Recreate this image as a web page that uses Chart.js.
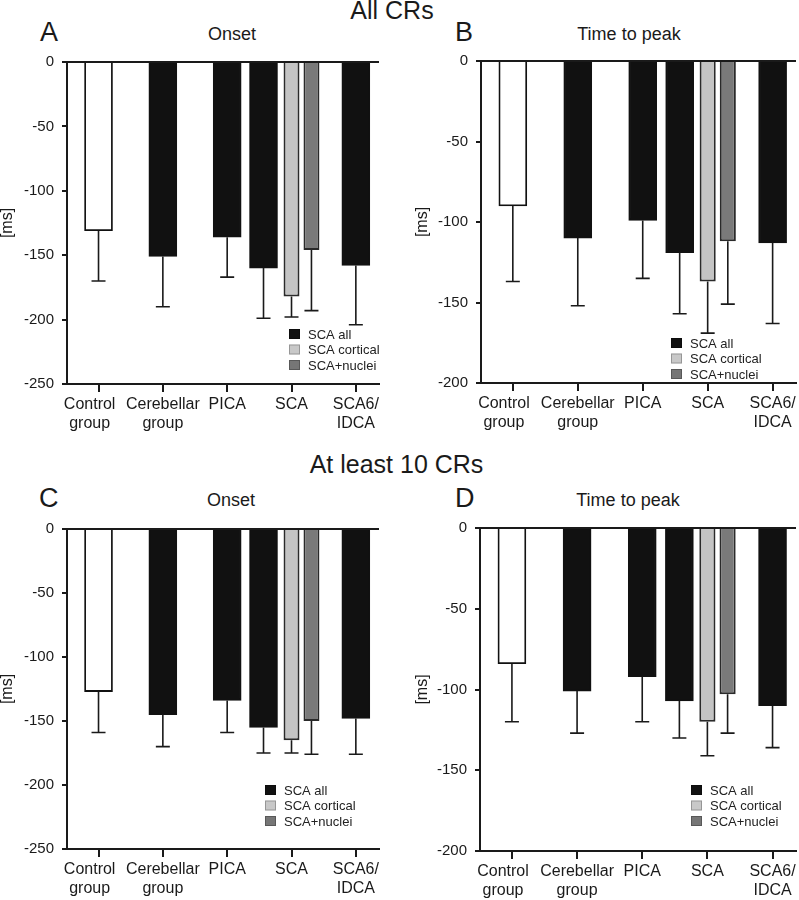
<!DOCTYPE html>
<html>
<head>
<meta charset="utf-8">
<script src="https://cdn.jsdelivr.net/npm/chart.js@4.4.1/dist/chart.umd.min.js"></script>
<style>
  body { margin: 0; background: #fff; font-family: "Liberation Sans", Arial, sans-serif; color: #1a1a1a; }
  #page { position: relative; width: 799px; height: 900px; overflow: hidden; }
  .txt { position: absolute; white-space: nowrap; }
  .head { font-size: 25px; line-height: 25px; text-align: center; }
  .letter { font-size: 27px; line-height: 27px; }
  .sub { font-size: 18px; line-height: 18px; text-align: center; width: 160px; }
  canvas { position: absolute; }
</style>
</head>
<body>
<div id="page">
  <div class="txt head" style="left:0;width:784px;top:-2px">All CRs</div>
  <div class="txt head" style="left:0;width:793px;top:452px">At least 10 CRs</div>

  <div class="txt letter" style="left:40px;top:19px">A</div>
  <div class="txt letter" style="left:455px;top:19px">B</div>
  <div class="txt letter" style="left:39px;top:485px">C</div>
  <div class="txt letter" style="left:455px;top:485px">D</div>

  <div class="txt sub" style="left:152px;top:25px">Onset</div>
  <div class="txt sub" style="left:549px;top:25px">Time to peak</div>
  <div class="txt sub" style="left:151px;top:491px">Onset</div>
  <div class="txt sub" style="left:548px;top:491px">Time to peak</div>

  <canvas id="chartA" width="400" height="440" style="left:0;top:0"></canvas>
  <canvas id="chartB" width="399" height="440" style="left:400px;top:0"></canvas>
  <canvas id="chartC" width="400" height="460" style="left:0;top:440px"></canvas>
  <canvas id="chartD" width="399" height="460" style="left:400px;top:440px"></canvas>
</div>
<script>
// groups on the x axis, SCA is split into sub groups
const groupLabels = [['Control', 'group'], ['Cerebellar', 'group'], 'PICA', 'SCA', ['SCA6/', 'IDCA']];
const scaIndex = 3;
const seriesNames = ['SCA all', 'SCA cortical', 'SCA+nuclei'];
const onsetRange = [-250, 0];
const peakRange = [-200, 0];
const tickStep = 50;

// all CRs - onset
const onsetAllMean = [-131, -151, -136, -160, -158];
const onsetAllSd = [39, 39, 31, 39, 46];
const onsetAllCortical = -182, onsetAllCorticalSd = 16;
const onsetAllNuclei = -146, onsetAllNucleiSd = 47;

// all CRs - time to peak
const peakAllMean = [-90, -110, -99, -119, -113];
const peakAllSd = [47, 42, 36, 38, 50];
const peakAllCortical = -137, peakAllCorticalSd = 32;
const peakAllNuclei = -112, peakAllNucleiSd = 39;

// at least 10 CRs - onset
const onset10Mean = [-127, -145, -134, -155, -148];
const onset10Sd = [32, 25, 25, 20, 28];
const onset10Cortical = -165, onset10CorticalSd = 10;
const onset10Nuclei = -150, onset10NucleiSd = 26;

// at least 10 CRs - time to peak
const peak10Mean = [-84, -101, -92, -107, -110];
const peak10Sd = [36, 26, 28, 23, 26];
const peak10Cortical = -120, peak10CorticalSd = 21;
const peak10Nuclei = -103, peak10NucleiSd = 24;

const ink = '#1a1a1a';
Chart.defaults.font.family = '"Liberation Sans", Arial, sans-serif';
Chart.defaults.color = ink;
Chart.defaults.plugins.legend.display = false;
Chart.defaults.plugins.tooltip.enabled = false;

// error bars going away from zero, with a cap
const errorBars = {
    id: 'errorBars',
    afterDatasetsDraw(chart) {
        const ctx = chart.ctx;
        const yScale = chart.scales.y;
        ctx.save();
        ctx.strokeStyle = ink;
        ctx.lineWidth = 1.6;
        chart.data.datasets.forEach((ds, i) => {
            chart.getDatasetMeta(i).data.forEach((bar, j) => {
                const end = yScale.getPixelForValue(ds.data[j].y - ds.errors[j]);
                ctx.beginPath();
                ctx.moveTo(bar.x, bar.y);
                ctx.lineTo(bar.x, end);
                ctx.moveTo(bar.x - 7, end);
                ctx.lineTo(bar.x + 7, end);
                ctx.stroke();
            });
        });
        ctx.restore();
    }
};

// small legend in the lower right of the plot
const boxLegend = {
    id: 'boxLegend',
    afterDraw(chart, args, opts) {
        const {ctx, chartArea} = chart;
        const x = chartArea.right - opts.right;
        let y = chartArea.bottom - opts.bottom;
        ctx.save();
        ctx.font = '13px "Liberation Sans", Arial, sans-serif';
        ctx.textBaseline = 'middle';
        chart.data.datasets.forEach(ds => {
            ctx.fillStyle = ds.legendColor;
            ctx.fillRect(x, y - 5, 11, 10);
            ctx.strokeStyle = 'rgba(0,0,0,0.25)';
            ctx.lineWidth = 1;
            ctx.strokeRect(x + 0.5, y - 4.5, 10, 9);
            ctx.fillStyle = '#222';
            ctx.fillText(ds.label, x + 19, y + 1);
            y += 15.5;
        });
        ctx.restore();
    }
};

// the first label sits a bit left of its tick in the original
const tickLabel = v => {
    const lab = groupLabels[v];
    if (lab === undefined) return '';
    return v === 0 ? lab.map(s => s + '    ') : lab;
};

function drawPanel(canvasId, mean, sd, cortical, corticalSd, nuclei, nucleiSd, range, box, legendAt) {
    const ctx = document.getElementById(canvasId).getContext('2d');
    return new Chart(ctx, {
        type: 'bar',
        data: {
            datasets: [{
                label: seriesNames[0],
                data: mean.map((v, i) => ({x: i, y: v})),
                errors: sd,
                backgroundColor: ['#ffffff', '#111111', '#111111', '#111111', '#111111'],
                borderColor: '#111111',
                borderWidth: 1.8,
                barThickness: 28,
                skipNull: true,
                legendColor: '#111111'
            }, {
                label: seriesNames[1],
                data: [{x: scaIndex, y: cortical}],
                errors: [corticalSd],
                backgroundColor: '#c4c4c4',
                borderColor: '#2a2a2a',
                borderWidth: 2,
                categoryPercentage: 0.93,
                barPercentage: 0.8,
                skipNull: true,
                legendColor: '#c8c8c8'
            }, {
                label: seriesNames[2],
                data: [{x: scaIndex, y: nuclei}],
                errors: [nucleiSd],
                backgroundColor: '#7a7a7a',
                borderColor: '#2a2a2a',
                borderWidth: 2,
                categoryPercentage: 0.93,
                barPercentage: 0.8,
                skipNull: true,
                legendColor: '#767676'
            }]
        },
        options: {
            responsive: false,
            animation: false,
            layout: {padding: {left: box.left, top: box.top, right: box.right, bottom: 0}},
            scales: {
                x: {
                    type: 'linear',
                    min: -0.49,
                    max: 4.36,
                    offset: false,
                    grid: {offset: false, drawOnChartArea: false, tickLength: 8, tickColor: ink, lineWidth: 2},
                    border: {color: ink, width: 2},
                    ticks: {
                        stepSize: 1, includeBounds: false, autoSkip: false, maxRotation: 0, minRotation: 0,
                        padding: 3, color: ink, font: {size: 16},
                        callback: tickLabel
                    },
                    afterFit: s => { s.height = box.xh; }
                },
                y: {
                    min: range[0],
                    max: range[1],
                    ticks: {stepSize: tickStep, padding: 8, color: ink, font: {size: 15}},
                    grid: {
                        color: c => (c.tick && c.tick.value === 0) ? ink : 'rgba(0,0,0,0)',
                        tickColor: ink, tickLength: 5, lineWidth: 2
                    },
                    border: {color: ink, width: 2},
                    title: {display: true, text: '[ms]', color: ink, font: {size: 16, lineHeight: 1}, padding: 0},
                    afterFit: s => { s.width = box.yw; }
                }
            },
            plugins: {
                boxLegend: legendAt
            }
        },
        plugins: [errorBars, boxLegend]
    });
}

drawPanel('chartA', onsetAllMean, onsetAllSd, onsetAllCortical, onsetAllCorticalSd, onsetAllNuclei, onsetAllNucleiSd,
    onsetRange, {left: 0, top: 62, right: 21, yw: 67, xh: 56}, {right: 90, bottom: 50});
drawPanel('chartB', peakAllMean, peakAllSd, peakAllCortical, peakAllCorticalSd, peakAllNuclei, peakAllNucleiSd,
    peakRange, {left: 15, top: 61, right: 3, yw: 66, xh: 57}, {right: 125, bottom: 40});
drawPanel('chartC', onset10Mean, onset10Sd, onset10Cortical, onset10CorticalSd, onset10Nuclei, onset10NucleiSd,
    onsetRange, {left: 0, top: 89, right: 21, yw: 67, xh: 51}, {right: 114, bottom: 59});
drawPanel('chartD', peak10Mean, peak10Sd, peak10Cortical, peak10CorticalSd, peak10Nuclei, peak10NucleiSd,
    peakRange, {left: 15, top: 88, right: 3, yw: 65, xh: 49}, {right: 105, bottom: 61});
</script>
</body>
</html>
